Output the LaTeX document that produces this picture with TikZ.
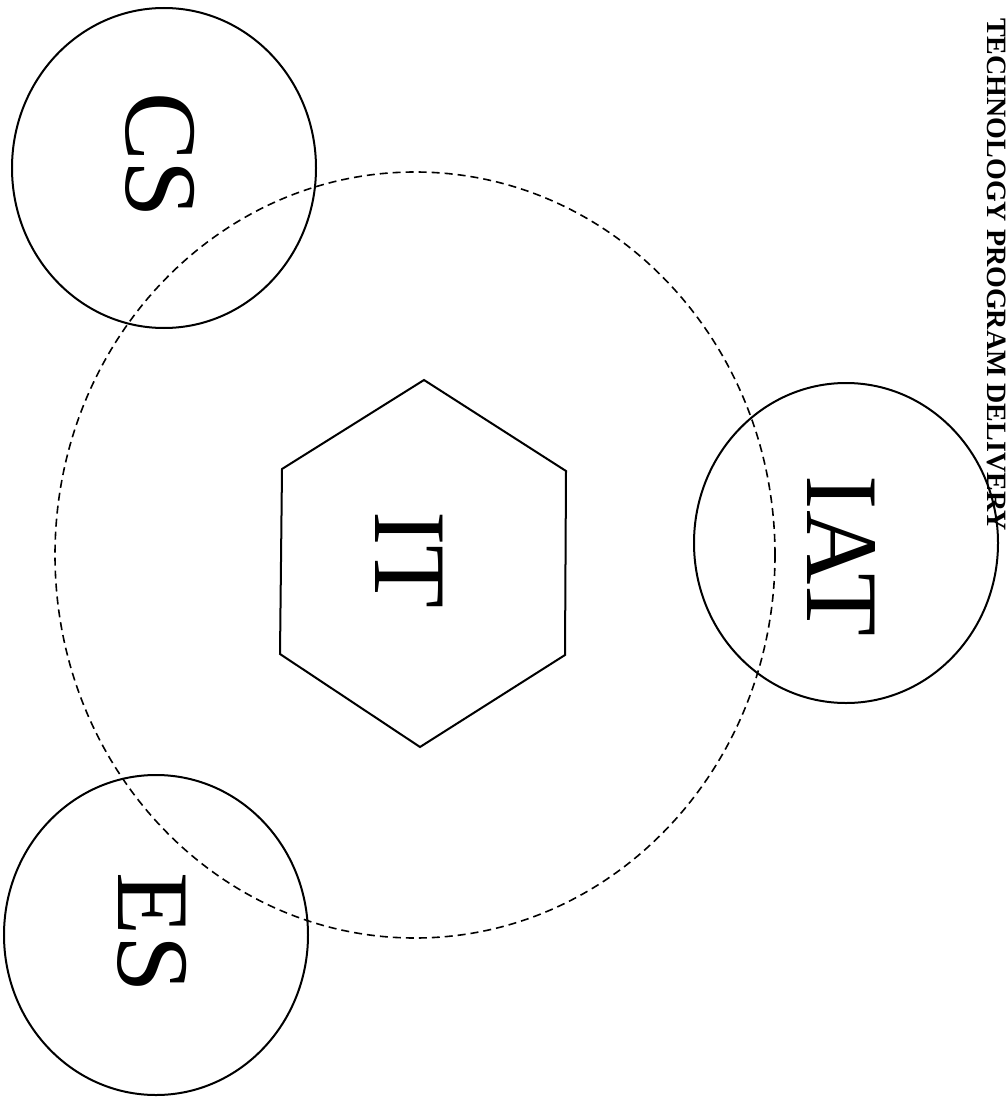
\documentclass[tikz,border=0pt]{standalone}
\usepackage{fontspec}
\setmainfont{Liberation Serif}
\usetikzlibrary{shapes.geometric}
\begin{document}
\begin{tikzpicture}[x=1pt,y=-1pt,
  ring/.style={draw, line width=2pt, ellipse, minimum width=304pt, minimum height=320pt, inner sep=0pt},
  bigtxt/.style={font=\fontsize{103}{103}\selectfont, rotate=-90, inner sep=0pt, anchor=center},
  dashring/.style={dashed, line width=1.6pt, dash pattern=on 8pt off 5pt},
  hexline/.style={draw, line width=2pt, line join=miter}]
\useasboundingbox (0,0) rectangle (1007,1097);
% dashed outer ellipse
\draw[dashring] (415,555) ellipse [x radius=360, y radius=383];
% hexagon
\coordinate (h1) at (424,380);
\coordinate (h2) at (566,471);
\coordinate (h3) at (565,655);
\coordinate (h4) at (420,747);
\coordinate (h5) at (280,654);
\coordinate (h6) at (282,469);
\draw[hexline] (h1) -- (h2) -- (h3) -- (h4) -- (h5) -- (h6) -- cycle;
% circles
\node[ring] (csring) at (164,168) {};
\node[ring] (esring) at (156,935) {};
\node[ring] (iatring) at (846,543) {};
% labels
\node[bigtxt] (it) at (409,560) {IT};
\node[bigtxt] (cs) at (160,155) {CS};
\node[bigtxt] (es) at (152,933) {ES};
\node[bigtxt] (iat) at (841,556) {IAT};
% header along the right edge
\node[font=\bfseries\fontsize{28}{28}\selectfont, rotate=-90, anchor=base west, inner sep=0pt] (hdr) at (987,18) {TECHNOLOGY PROGRAM DELIVERY};
\end{tikzpicture}
\end{document}
